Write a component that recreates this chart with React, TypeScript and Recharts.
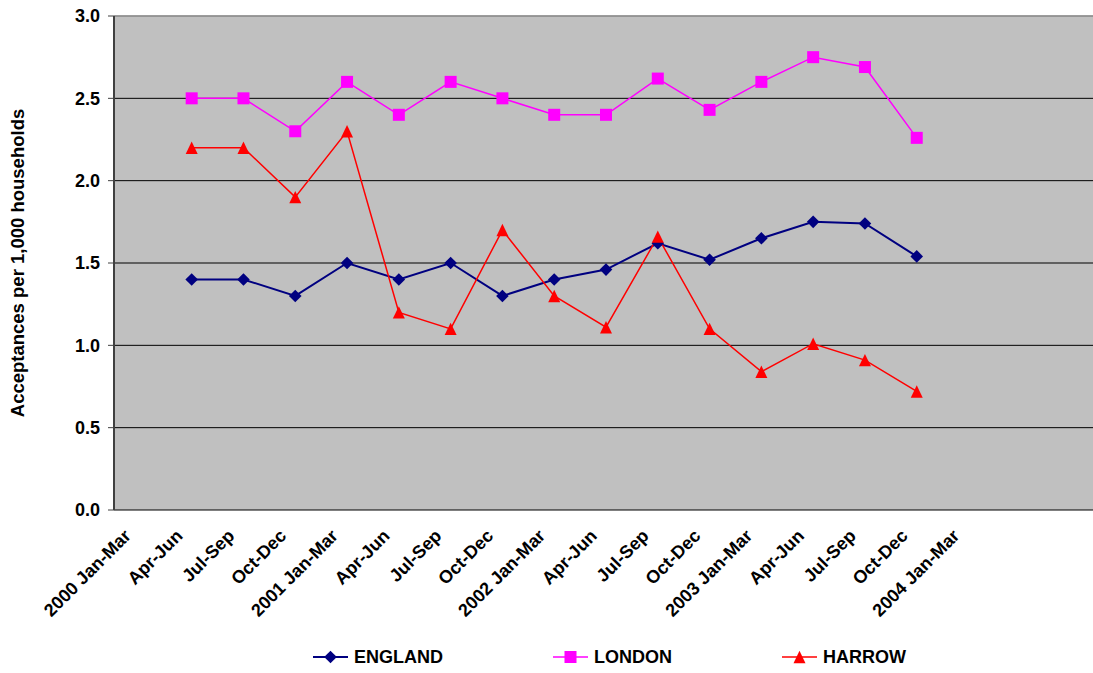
import React from 'react';
import {
  LineChart,
  Line,
  XAxis,
  YAxis,
  CartesianGrid,
  ReferenceLine,
  Legend,
} from 'recharts';

// Quarterly acceptances per 1,000 households
const quarters = [
  '2000 Jan-Mar', 'Apr-Jun', 'Jul-Sep', 'Oct-Dec',
  '2001 Jan-Mar', 'Apr-Jun', 'Jul-Sep', 'Oct-Dec',
  '2002 Jan-Mar', 'Apr-Jun', 'Jul-Sep', 'Oct-Dec',
  '2003 Jan-Mar', 'Apr-Jun', 'Jul-Sep', 'Oct-Dec',
  '2004 Jan-Mar', '', '',
];

const england = [
  null, 1.4, 1.4, 1.3, 1.5, 1.4, 1.5, 1.3, 1.4, 1.46, 1.62, 1.52, 1.65, 1.75, 1.74, 1.54,
  null, null, null,
];
const london = [
  null, 2.5, 2.5, 2.3, 2.6, 2.4, 2.6, 2.5, 2.4, 2.4, 2.62, 2.43, 2.6, 2.75, 2.69, 2.26,
  null, null, null,
];
const harrow = [
  null, 2.2, 2.2, 1.9, 2.3, 1.2, 1.1, 1.7, 1.3, 1.11, 1.66, 1.1, 0.84, 1.01, 0.91, 0.72,
  null, null, null,
];

const yTicks = [0, 0.5, 1, 1.5, 2, 2.5, 3];
// label positions (category centres) and tick-mark positions (category boundaries)
const labelTicks = quarters.map((_, i) => i);
const edgeTicks = [...quarters.map((_, i) => i - 0.5), quarters.length - 0.5];
const xDomain = [-0.5, quarters.length - 0.5];

const data = quarters.map((q, i) => ({
  idx: i,
  quarter: q,
  england: england[i],
  london: london[i],
  harrow: harrow[i],
}));

const FONT = '"Liberation Sans", Arial, Helvetica, sans-serif';
const AXIS_COLOR = '#404040';

type DotProps = { cx?: number; cy?: number; fill: string };

const Diamond = ({ cx, cy, fill }: DotProps) => {
  if (cx == null || cy == null) return <g />;
  const r = 6.3;
  return (
    <path
      d={`M${cx},${cy - r} L${cx + r},${cy} L${cx},${cy + r} L${cx - r},${cy} Z`}
      fill={fill}
    />
  );
};

const Square = ({ cx, cy, fill }: DotProps) => {
  if (cx == null || cy == null) return <g />;
  return <rect x={cx - 6} y={cy - 6} width={12} height={12} fill={fill} />;
};

const Triangle = ({ cx, cy, fill }: DotProps) => {
  if (cx == null || cy == null) return <g />;
  return (
    <path
      d={`M${cx},${cy - 6.2} L${cx + 6},${cy + 6.2} L${cx - 6},${cy + 6.2} Z`}
      fill={fill}
    />
  );
};

const series = [
  { key: 'england', name: 'ENGLAND', color: '#000080', width: 2, Marker: Diamond },
  { key: 'london', name: 'LONDON', color: '#FF00FF', width: 1.5, Marker: Square },
  { key: 'harrow', name: 'HARROW', color: '#FF0000', width: 1.5, Marker: Triangle },
];

const QuarterTick = (props: any) => {
  const { x, y, payload } = props;
  const label = quarters[Math.round(payload.value)] ?? '';
  if (!label) return <g />;
  const tx = x - 8;
  const ty = y + 19;
  return (
    <text
      x={tx}
      y={ty}
      transform={`rotate(-45, ${tx}, ${ty})`}
      textAnchor="end"
      fontFamily={FONT}
      fontWeight="bold"
      fontSize={18}
      fill="#000"
    >
      {label}
    </text>
  );
};

const YTitle = (props: any) => {
  const vb = props.viewBox || { x: 0, y: 0, width: 0, height: 0 };
  const tx = 24;
  const ty = vb.y + vb.height / 2;
  return (
    <text
      x={tx}
      y={ty}
      transform={`rotate(-90, ${tx}, ${ty})`}
      textAnchor="middle"
      fontFamily={FONT}
      fontWeight="bold"
      fontSize={18.5}
      fill="#000"
    >
      Acceptances per 1,000 households
    </text>
  );
};

const LegendContent = () => (
  <div
    style={{
      display: 'flex',
      alignItems: 'center',
      height: 30,
      paddingLeft: 313,
      fontFamily: FONT,
      fontWeight: 'bold',
      fontSize: 18,
      color: '#000',
    }}
  >
    {series.map((s) => (
      <div key={s.key} style={{ display: 'flex', alignItems: 'center', marginRight: 110 }}>
        <svg width={35} height={14} style={{ display: 'block' }}>
          <line x1={0} y1={7} x2={35} y2={7} stroke={s.color} strokeWidth={s.width} />
          <s.Marker cx={17.5} cy={7} fill={s.color} />
        </svg>
        <span style={{ marginLeft: 6 }}>{s.name}</span>
      </div>
    ))}
  </div>
);

export default function App() {
  return (
    <div
      style={{
        position: 'absolute',
        left: 0,
        top: 0,
        width: 1093,
        height: 673,
        overflow: 'hidden',
      }}
    >
      <LineChart
        width={1108}
        height={673}
        data={data}
        margin={{ top: 16, right: 10, bottom: 0, left: 8 }}
      >
        <CartesianGrid vertical={false} fill="#C0C0C0" stroke="#000" strokeWidth={1} />
        <ReferenceLine y={3} stroke="#a6a6a6" strokeWidth={1.5} />
        <XAxis
          xAxisId="edges"
          type="number"
          domain={xDomain}
          ticks={edgeTicks}
          tick={false}
          tickSize={6}
          height={0}
          tickLine={{ stroke: AXIS_COLOR, strokeWidth: 1 }}
          axisLine={{ stroke: AXIS_COLOR, strokeWidth: 2 }}
          allowDataOverflow
        />
        <XAxis
          dataKey="idx"
          type="number"
          domain={xDomain}
          ticks={labelTicks}
          interval={0}
          height={133}
          axisLine={false}
          tickLine={false}
          tick={<QuarterTick />}
          allowDataOverflow
        />
        <YAxis
          width={106}
          domain={[0, 3]}
          ticks={yTicks}
          interval={0}
          tickFormatter={(v: number) => v.toFixed(1)}
          tickSize={6}
          tickMargin={8}
          tick={{ fill: '#000', fontFamily: FONT, fontWeight: 'bold', fontSize: 18 }}
          tickLine={{ stroke: AXIS_COLOR, strokeWidth: 1 }}
          axisLine={{ stroke: AXIS_COLOR, strokeWidth: 2 }}
          label={<YTitle />}
        />
        <Legend
          verticalAlign="bottom"
          height={30}
          content={<LegendContent />}
          wrapperStyle={{ left: 0, top: 642, bottom: 'auto', width: 1108 }}
        />
        {series.map((s) => (
          <Line
            key={s.key}
            dataKey={s.key}
            name={s.name}
            stroke={s.color}
            strokeWidth={s.width}
            isAnimationActive={false}
            dot={(p: any) => <s.Marker key={`${s.key}-${p.index}`} cx={p.cx} cy={p.cy} fill={s.color} />}
            activeDot={false}
          />
        ))}
      </LineChart>
    </div>
  );
}
